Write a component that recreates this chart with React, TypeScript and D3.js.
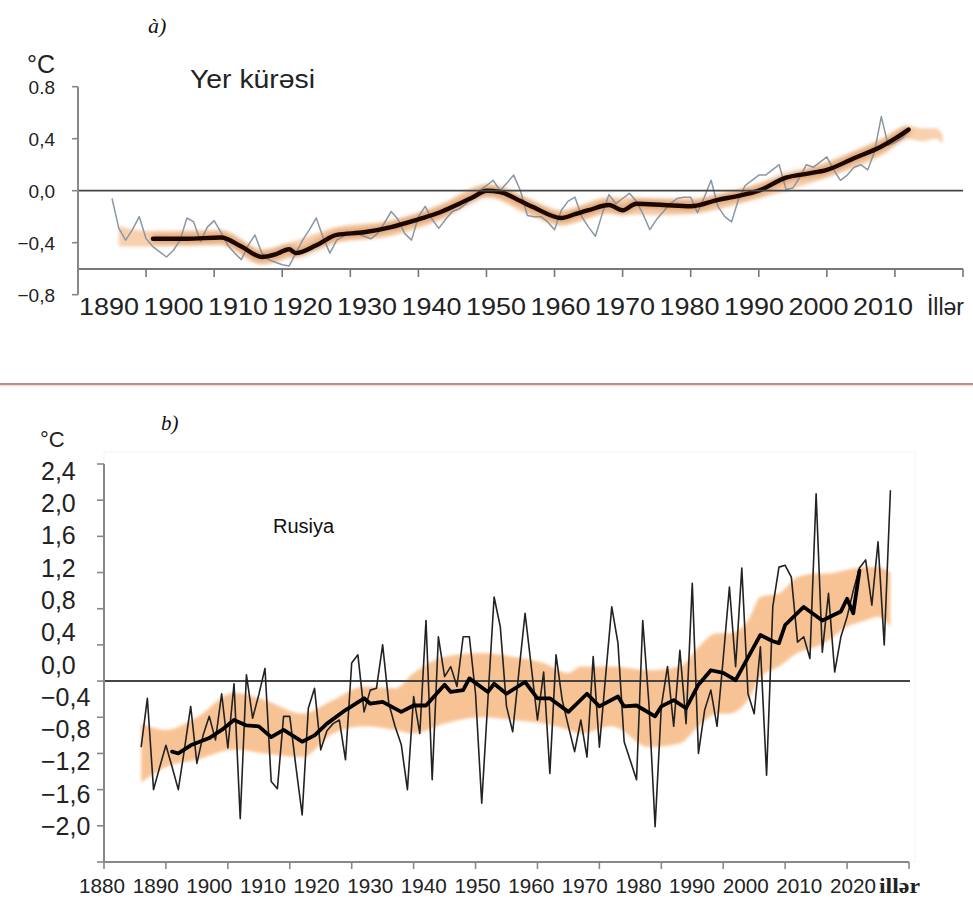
import * as d3 from "d3";

// ---- panel a) Yer kürəsi (global) ----
const globStart = 1895;
const globValues = [
  -0.06, -0.29, -0.38, -0.30, -0.20,
  -0.37, -0.43, -0.47, -0.51, -0.46, -0.38, -0.21, -0.24, -0.39, -0.28,
  -0.23, -0.32, -0.42, -0.48, -0.53, -0.42, -0.34, -0.48, -0.53, -0.55,
  -0.57, -0.58, -0.48, -0.38, -0.30, -0.21, -0.36, -0.48, -0.38, -0.35,
  -0.32, -0.33, -0.35, -0.37, -0.33, -0.25, -0.16, -0.22, -0.33, -0.38,
  -0.20, -0.12, -0.22, -0.29, -0.22, -0.16, -0.14, -0.10, -0.05, 0.00,
  0.04, 0.08, 0.00, 0.06, 0.12, 0.00, -0.19, -0.20, -0.20, -0.24,
  -0.30, -0.15, -0.08, -0.05, -0.20, -0.28, -0.35, -0.18, -0.03, -0.10,
  -0.06, -0.02, -0.08, -0.18, -0.30, -0.22, -0.16, -0.10, -0.06, -0.05,
  -0.05, -0.17, -0.05, 0.08, -0.12, -0.20, -0.24, -0.07, 0.04, 0.08,
  0.12, 0.12, 0.16, 0.20, 0.01, 0.02, 0.10, 0.20, 0.18, 0.22,
  0.26, 0.16, 0.08, 0.12, 0.18, 0.20, 0.16, 0.30, 0.57, 0.35,
  0.37, 0.40, 0.46,
];
const globSmoothYears = [1901, 1906, 1911, 1914, 1917, 1919, 1921, 1922, 1925, 1928, 1932, 1936, 1940, 1943, 1946, 1948, 1950, 1952, 1955, 1957, 1961, 1963, 1965, 1968, 1970, 1972, 1976, 1980, 1984, 1987, 1990, 1994, 1997, 2000, 2004, 2008, 2010, 2012];
const globSmooth = [-0.37, -0.37, -0.36, -0.43, -0.51, -0.49, -0.45, -0.48, -0.42, -0.34, -0.32, -0.28, -0.22, -0.17, -0.10, -0.05, 0.00, -0.01, -0.08, -0.13, -0.21, -0.18, -0.15, -0.11, -0.15, -0.10, -0.11, -0.12, -0.07, -0.04, 0.00, 0.10, 0.13, 0.16, 0.25, 0.34, 0.40, 0.47];
const globBandYears = [1896, 1900, 1911, 1917, 1921, 1928, 1936, 1943, 1950, 1956, 1961, 1968, 1975, 1980, 1990, 2000, 2008, 2012, 2014, 2016, 2017];
const globBandLow = [-0.43, -0.43, -0.42, -0.57, -0.52, -0.40, -0.35, -0.23, -0.05, -0.18, -0.27, -0.18, -0.19, -0.18, -0.06, 0.10, 0.27, 0.40, 0.38, 0.40, 0.36];
const globBandHigh = [-0.27, -0.31, -0.30, -0.45, -0.40, -0.28, -0.23, -0.11, 0.05, -0.06, -0.15, -0.05, -0.06, -0.06, 0.06, 0.22, 0.40, 0.50, 0.48, 0.48, 0.43];
const topYTicks = [0.8, 0.4, 0.0, -0.4, -0.8];
const topYLabels = ["0.8", "0,4", "0,0", "\u22120,4", "\u22120,8"];
const topXLabels = ["1890", "1900", "1910", "1920", "1930", "1940", "1950", "1960", "1970", "1980", "1990", "2000", "2010"];

// ---- panel b) Rusiya ----
const rusStart = 1886;
const rusValues = [
  -0.73, -0.19, -1.20, -0.95,
  -0.71, -0.95, -1.20, -0.75, -0.28, -0.91, -0.60, -0.39, -0.65, -0.14,
  -0.74, -0.03, -1.52, 0.07, -0.41, -0.15, 0.14, -1.11, -1.19, -0.39,
  -0.39, -0.95, -1.48, -0.30, -0.08, -0.76, -0.55, -0.47, -0.43, -0.87,
  0.20, 0.29, -0.34, -0.10, -0.08, 0.40, -0.25, -0.50, -0.70, -1.20,
  -0.17, -0.58, 0.67, -1.09, 0.49, 0.05, 0.16, -0.06, 0.49, 0.49,
  -0.14, -1.35, -0.20, 0.93, 0.60, -0.28, -0.56, 0.10, 0.75, 0.16,
  -0.43, 0.10, -1.02, 0.29, -0.21, -0.50, -0.78, -0.43, -0.84, 0.27,
  -0.73, 0.05, 0.82, 0.42, -0.67, -0.88, -1.09, 0.67, -0.25, -1.61,
  -0.28, 0.16, -0.50, 0.34, -0.47, 1.08, -0.80, -0.32, -0.10, -0.50,
  0.25, 1.04, 0.16, 1.25, -0.14, -0.36, 0.38, -1.04, 0.82, 1.26,
  1.28, 1.15, 0.43, 0.49, 0.25, 2.07, 0.32, 0.97, 0.10, 0.49,
  0.71, 1.00, 1.25, 1.34, 0.84, 1.54, 0.40, 2.11,
];
const rusSmoothYears = [1891, 1892, 1894, 1897, 1899, 1901, 1903, 1905, 1907, 1909, 1912, 1914, 1916, 1919, 1922, 1923, 1925, 1928, 1930, 1932, 1935, 1936, 1938, 1939, 1942, 1943, 1945, 1948, 1950, 1952, 1955, 1958, 1960, 1963, 1964, 1966, 1969, 1970, 1972, 1974, 1976, 1978, 1980, 1982, 1986, 1988, 1989, 1990, 1993, 1996, 1999, 2000, 2001, 2002];
const rusSmooth = [-0.78, -0.80, -0.71, -0.63, -0.54, -0.43, -0.49, -0.50, -0.62, -0.54, -0.67, -0.60, -0.47, -0.32, -0.19, -0.25, -0.23, -0.34, -0.27, -0.27, -0.04, -0.12, -0.10, 0.03, -0.12, -0.03, -0.14, -0.01, -0.19, -0.19, -0.34, -0.14, -0.28, -0.17, -0.28, -0.27, -0.39, -0.28, -0.21, -0.30, -0.04, 0.12, 0.09, 0.01, 0.51, 0.44, 0.42, 0.62, 0.82, 0.67, 0.77, 0.91, 0.75, 1.22];
const rusBandYears = [1886, 1890, 1895, 1901, 1906, 1912, 1917, 1922, 1927, 1930, 1935, 1941, 1946, 1951, 1955, 1957, 1962, 1968, 1973, 1976, 1979, 1981, 1984, 1986, 1989, 1992, 1995, 1997, 2000, 2003, 2005, 2007];
const rusBandLow = [-1.12, -0.95, -0.87, -0.76, -0.80, -0.84, -0.58, -0.50, -0.54, -0.58, -0.47, -0.40, -0.43, -0.47, -0.54, -0.58, -0.50, -0.73, -0.69, -0.50, -0.36, -0.36, -0.21, 0.04, 0.16, 0.31, 0.38, 0.45, 0.60, 0.67, 0.71, 0.60];
const rusBandHigh = [-0.47, -0.54, -0.40, -0.13, -0.21, -0.36, -0.21, -0.06, -0.08, 0.09, 0.27, 0.31, 0.27, 0.20, 0.09, 0.16, 0.16, 0.12, 0.16, 0.38, 0.53, 0.53, 0.67, 0.93, 0.97, 1.15, 1.19, 1.19, 1.23, 1.26, 1.26, 1.20];
const botYTicks = [2.4, 2.0, 1.6, 1.2, 0.8, 0.4, 0.0, -0.4, -0.8, -1.2, -1.6, -2.0];
const botYLabels = ["2,4", "2,0", "1,6", "1,2", "0,8", "0,4", "0,0", "\u22120,4", "\u22120,8", "\u22121,2", "\u22121,6", "\u22122,0"];
const botXLabels = ["1880", "1890", "1900", "1910", "1920", "1930", "1940", "1950", "1960", "1970", "1980", "1990", "2000", "2010", "2020"];

const sans = "'Liberation Sans', Arial, Helvetica, sans-serif";

export default function App() {
  // panel a scales
  const xA = d3.scaleLinear([1890, 2020], [78, 963]);
  const yA = d3.scaleLinear([-0.8, 0.8], [294.7, 86.7]);
  const xALabel = d3.scaleLinear([1890, 2010], [109, 883]);

  // panel b scales
  const xB = d3.scaleLinear([1880, 2010], [104, 909]);
  const yB = d3.scaleLinear([-2.0, 2.4], [862, 464]);
  const xBLabel = d3.scaleLinear([1880, 2020], [102, 853]);
  const yBLabel = d3.scaleLinear([-2.0, 2.4], [826, 470.7]);

  const globPts = globValues.map((v, i) => [globStart + i, v]);
  const rusPts = rusValues.map((v, i) => [rusStart + i, v]);

  const lineA = d3.line<any>((d) => xA(d[0]), (d) => yA(d[1]));
  const smoothA = d3.line<number>((d, i) => xA(globSmoothYears[i]), (d) => yA(d)).curve(d3.curveMonotoneX);
  const bandA = d3.area<number>((d) => xA(d), (d, i) => yA(globBandLow[i]), (d, i) => yA(globBandHigh[i])).curve(d3.curveMonotoneX);

  const lineB = d3.line<any>((d) => xB(d[0]), (d) => yB(d[1]));
  const smoothB = d3.line<number>((d, i) => xB(rusSmoothYears[i]), (d) => yB(d));
  const bandB = d3.area<number>((d) => xB(d), (d, i) => yB(rusBandLow[i]), (d, i) => yB(rusBandHigh[i])).curve(d3.curveMonotoneX);

  return (
    <svg width={973} height={900} style={{ position: "absolute", left: 0, top: 0, background: "#fff" }}>
      <defs>
        <filter id="soft" x="-5%" y="-20%" width="110%" height="140%">
          <feGaussianBlur stdDeviation="1.6" />
        </filter>
        <filter id="halo" x="-5%" y="-20%" width="110%" height="140%">
          <feGaussianBlur stdDeviation="2.5" />
        </filter>
      </defs>
      <rect width={973} height={900} fill="#fff" />

      {/* ---------- panel a ---------- */}
      <text x={148} y={33} fontFamily="'Liberation Serif', serif" fontStyle="italic" fontSize={22} fill="#111">à)</text>
      <text x={27} y={73} fontFamily={sans} fontSize={25} fill="#222">°C</text>
      <text x={190} y={88} fontFamily={sans} fontSize={25} textLength={125} lengthAdjust="spacingAndGlyphs" fill="#222">Yer kürəsi</text>

      <path d={bandA(globBandYears) || ""} fill="#f6c193" opacity={0.75} filter="url(#soft)" />
      <path d={lineA(globPts) || ""} fill="none" stroke="#8a97a6" strokeWidth={1.5} strokeLinejoin="round" />
      <path d={smoothA(globSmooth) || ""} fill="none" stroke="#b0602a" strokeOpacity={0.4} strokeWidth={9} filter="url(#halo)" />
      <path d={smoothA(globSmooth) || ""} fill="none" stroke="#1c0800" strokeWidth={4.4} strokeLinecap="round" strokeLinejoin="round" />

      <line x1={xA(1890)} x2={xA(2020)} y1={yA(0)} y2={yA(0)} stroke="#444" strokeWidth={1.8} />
      <line x1={xA(1890)} x2={xA(2020)} y1={269} y2={269} stroke="#777" strokeWidth={2} />
      {d3.range(1900, 2021, 10).map((yr) => (
        <line key={yr} x1={xA(yr)} x2={xA(yr)} y1={269} y2={277} stroke="#777" strokeWidth={1.6} />
      ))}
      <line x1={78} x2={78} y1={yA(0.8)} y2={yA(-0.8)} stroke="#888" strokeWidth={2} />
      {topYTicks.map((t) => (
        <line key={t} x1={72} x2={78} y1={yA(t)} y2={yA(t)} stroke="#888" strokeWidth={1.6} />
      ))}
      {topYTicks.map((t, i) => (
        <text key={t} x={55} y={yA(t) + 7} textAnchor="end" fontFamily={sans} fontSize={19} fill="#222">{topYLabels[i]}</text>
      ))}
      {topXLabels.map((l, i) => (
        <text key={l} x={xALabel(1890 + i * 10)} y={315} textAnchor="middle" fontFamily={sans} fontSize={24} textLength={60} lengthAdjust="spacingAndGlyphs" fill="#222">{l}</text>
      ))}
      <text x={964} y={315} textAnchor="end" fontFamily={sans} fontSize={23} fill="#222">İllər</text>

      {/* separator */}
      <line x1={0} x2={973} y1={384} y2={384} stroke="#b4918b" strokeWidth={2} />
      <line x1={0} x2={973} y1={385.8} y2={385.8} stroke="#f6cfc9" strokeWidth={1} />

      {/* ---------- panel b ---------- */}
      <text x={161} y={430} fontFamily="'Liberation Serif', serif" fontStyle="italic" fontSize={21} fill="#111">b)</text>
      <text x={40} y={447} fontFamily={sans} fontSize={22} fill="#222">°C</text>
      <text x={273} y={533} fontFamily={sans} fontSize={20} fill="#111">Rusiya</text>

      <rect x={104} y={452} width={811} height={410} fill="none" stroke="#f4f4f4" strokeWidth={1} />
      <path d={bandB(rusBandYears) || ""} fill="#f8bd89" opacity={0.9} filter="url(#soft)" />
      <line x1={104} x2={910} y1={yB(0)} y2={yB(0)} stroke="#444" strokeWidth={2} />
      <path d={lineB(rusPts) || ""} fill="none" stroke="#222" strokeWidth={1.6} strokeLinejoin="round" />
      <path d={smoothB(rusSmooth) || ""} fill="none" stroke="#000" strokeWidth={3.8} strokeLinejoin="round" strokeLinecap="round" />

      <line x1={104} x2={104} y1={yB(2.4)} y2={yB(-2.0)} stroke="#888" strokeWidth={2} />
      {botYTicks.map((t) => (
        <line key={t} x1={97} x2={104} y1={yB(t)} y2={yB(t)} stroke="#888" strokeWidth={1.6} />
      ))}
      <line x1={104} x2={909} y1={862} y2={862} stroke="#888" strokeWidth={2} />
      {d3.range(1880, 2011, 10).map((yr) => (
        <line key={yr} x1={xB(yr)} x2={xB(yr)} y1={862} y2={869} stroke="#888" strokeWidth={1.6} />
      ))}
      {botYTicks.map((t, i) => (
        <text key={t} x={41} y={yBLabel(t) + 9} fontFamily={sans} fontSize={25} fill="#222">{botYLabels[i]}</text>
      ))}
      {botXLabels.map((l, i) => (
        <text key={l} x={xBLabel(1880 + i * 10)} y={893} textAnchor="middle" fontFamily={sans} fontSize={21} textLength={46} lengthAdjust="spacingAndGlyphs" fill="#222">{l}</text>
      ))}
      <text x={879} y={893} fontFamily="'Liberation Serif', serif" fontWeight="bold" fontSize={20} textLength={41} lengthAdjust="spacingAndGlyphs" fill="#222">illər</text>
    </svg>
  );
}
